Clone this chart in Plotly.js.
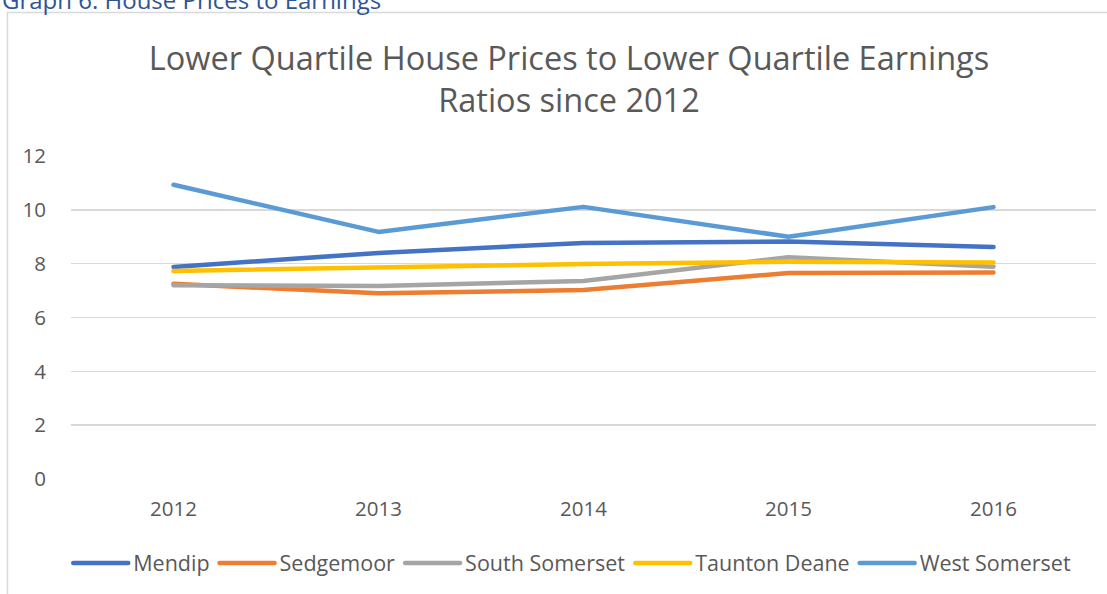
<!DOCTYPE html>
<html>
<head>
<meta charset="utf-8">
<script src="https://cdn.plot.ly/plotly-3.0.1.min.js"></script>
<style>
html,body{margin:0;padding:0;background:#fff;}
#chart{width:1107px;height:594px;}
.scatterlayer .js-line{stroke-linecap:round;stroke-linejoin:round;}
.legendlines path{stroke-linecap:round;}
</style>
</head>
<body>
<div id="chart"></div>
<script>
var years = ['2012', '2013', '2014', '2015', '2016'];
var mendip = [7.88, 8.40, 8.77, 8.82, 8.62];
var sedgemoor = [7.25, 6.90, 7.02, 7.65, 7.67];
var southSomerset = [7.20, 7.17, 7.36, 8.24, 7.89];
var tauntonDeane = [7.73, 7.87, 7.99, 8.07, 8.04];
var westSomerset = [10.93, 9.18, 10.11, 9.00, 10.10];
var seriesNames = ['Mendip', 'Sedgemoor', 'South Somerset', 'Taunton Deane', 'West Somerset'];
var seriesColors = ['#4472C4', '#ED7D31', '#A5A5A5', '#FFC000', '#5B9BD5'];
var seriesValues = [mendip, sedgemoor, southSomerset, tauntonDeane, westSomerset];
var yTicks = [0, 2, 4, 6, 8, 10, 12];

var font = 'Open Sans, sans-serif';
var traces = seriesValues.map(function (vals, i) {
  return {
    type: 'scatter', mode: 'lines', x: years, y: vals, name: seriesNames[i],
    line: {color: seriesColors[i], width: 4.5},
    hoverinfo: 'x+y+name'
  };
});

var layout = {
  width: 1107, height: 594,
  margin: {l: 71, r: 11, t: 156, b: 115},
  paper_bgcolor: '#ffffff', plot_bgcolor: '#ffffff',
  font: {family: font, color: '#595959', size: 20},
  title: {
    text: 'Lower Quartile House Prices to Lower Quartile Earnings<br>Ratios since 2012',
    font: {family: font, size: 32.5, color: '#595959'},
    x: 0.514, xref: 'container', xanchor: 'center',
    y: 0.882, yref: 'container', yanchor: 'middle'
  },
  xaxis: {
    type: 'category', range: [-0.5, 4.5], showgrid: false, zeroline: false,
    showline: false, automargin: false,
    ticks: 'outside', ticklen: 11, tickcolor: 'rgba(0,0,0,0)',
    tickfont: {family: font, size: 20.5, color: '#595959'}, fixedrange: true
  },
  yaxis: {
    range: [0, 12], tickvals: yTicks, ticktext: yTicks.map(String),
    showgrid: true, gridcolor: '#D9D9D9', gridwidth: 1.5, zeroline: false,
    showline: false, automargin: false,
    ticks: 'outside', ticklen: 20, tickcolor: 'rgba(0,0,0,0)',
    tickfont: {family: font, size: 20.5, color: '#595959'}, fixedrange: true
  },
  showlegend: true,
  legend: {
    orientation: 'h', x: 0.489, xanchor: 'center', y: -0.26, yanchor: 'middle',
    font: {family: font, size: 21.5, color: '#595959'}, itemwidth: 55,
    traceorder: 'normal', bgcolor: 'rgba(0,0,0,0)'
  },
  shapes: [{
    type: 'rect', xref: 'paper', yref: 'paper',
    x0: -0.062, x1: 1.02, y0: -0.38, y1: 1.4443,
    line: {color: '#D9D9D9', width: 1.5}, fillcolor: 'rgba(0,0,0,0)', layer: 'below'
  }],
  annotations: [{
    text: 'Graph 6: House Prices to Earnings', xref: 'paper', yref: 'paper',
    x: -0.0693, xanchor: 'left', y: 1.486, yanchor: 'middle', showarrow: false,
    font: {family: font, size: 24, color: '#2F5496'}
  }]
};

Plotly.newPlot('chart', traces, layout, {displayModeBar: false, staticPlot: true});
</script>
</body>
</html>
